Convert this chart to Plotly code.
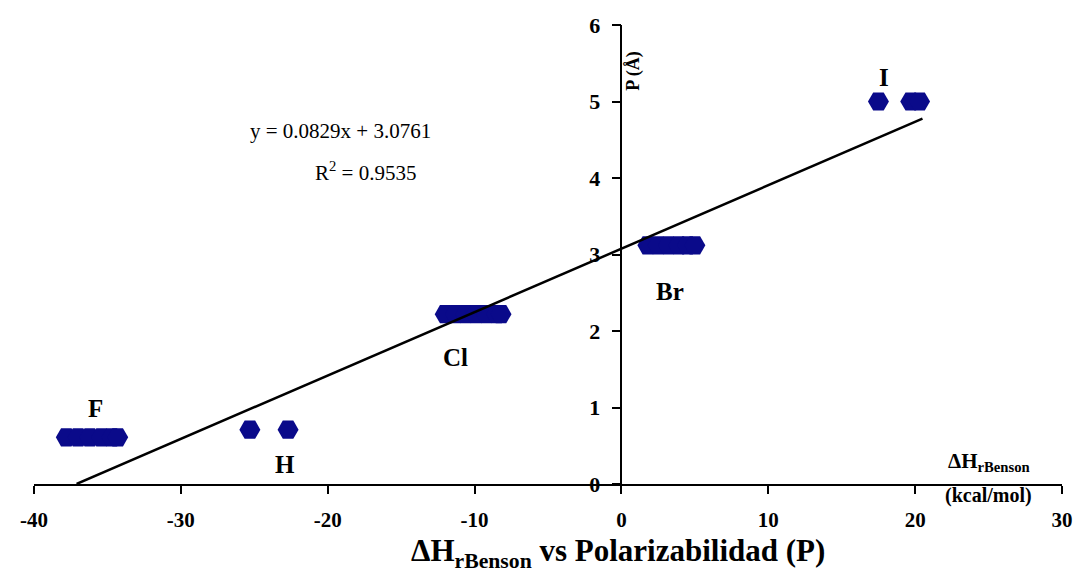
import plotly.graph_objects as go

# Data
F_x = [-37.8, -37.0, -36.2, -35.4, -34.7, -34.3]
F_y = [0.61, 0.61, 0.61, 0.61, 0.61, 0.61]
H_x = [-25.3, -22.7]
H_y = [0.71, 0.71]
Cl_x = [-12.0, -11.3, -10.6, -9.9, -9.2, -8.5, -8.2]
Cl_y = [2.22, 2.22, 2.22, 2.22, 2.22, 2.22, 2.22]
Br_x = [1.8, 2.5, 3.2, 3.9, 4.5, 5.0]
Br_y = [3.12, 3.12, 3.12, 3.12, 3.12, 3.12]
I_x = [17.5, 19.7, 20.3]
I_y = [5.0, 5.0, 5.0]

slope = 0.0829
intercept = 3.0761
line_x = [-37.1, 20.5]

x_ticks = [-40, -30, -20, -10, 0, 10, 20, 30]
y_ticks = [0, 1, 2, 3, 4, 5, 6]

labels = [("F", -35.8, 0.99), ("H", -22.9, 0.25), ("Cl", -11.3, 1.65),
          ("Br", 3.3, 2.51), ("I", 17.9, 5.31)]

all_x = F_x + H_x + Cl_x + Br_x + I_x
all_y = F_y + H_y + Cl_y + Br_y + I_y

SERIF = "Liberation Serif, Times New Roman, serif"
NAVY = "#0a0a8a"

fig = go.Figure()
fig.add_trace(go.Scatter(
    x=all_x, y=all_y, mode="markers",
    marker=dict(symbol="hexagon2", size=21, color=NAVY, line=dict(width=0)),
    showlegend=False, hoverinfo="skip"))
fig.add_trace(go.Scatter(
    x=line_x, y=[slope * v + intercept for v in line_x], mode="lines",
    line=dict(color="black", width=2.5), showlegend=False, hoverinfo="skip"))

for txt, lx, ly in labels:
    fig.add_annotation(x=lx, y=ly, text=f"<b>{txt}</b>", showarrow=False,
                       font=dict(family=SERIF, size=25, color="black"))

fig.add_annotation(x=-19.1, y=4.61, text="y = 0.0829x + 3.0761", showarrow=False,
                   font=dict(family=SERIF, size=21, color="black"))
fig.add_annotation(x=-17.4, y=4.09, text="R<sup>2</sup> = 0.9535", showarrow=False,
                   font=dict(family=SERIF, size=21, color="black"))

# axis titles as annotations
fig.add_annotation(x=0.85, y=5.4, text="<b>P (Å)</b>", textangle=-90, showarrow=False,
                   font=dict(family=SERIF, size=18, color="black"))
fig.add_annotation(x=25.05, y=0.29, text="<b>ΔH<sub>rBenson</sub></b>", showarrow=False,
                   font=dict(family=SERIF, size=21, color="black"))
fig.add_annotation(x=(988 - 34) / 1028, y=(484 - 496) / 459, xref="paper", yref="paper",
                   xanchor="center", yanchor="middle",
                   text="<b>(kcal/mol)</b>", showarrow=False,
                   font=dict(family=SERIF, size=20, color="black"))
fig.add_annotation(x=(618 - 34) / 1028, y=(484 - 553) / 459, xref="paper", yref="paper",
                   xanchor="center", yanchor="middle",
                   text="<b>ΔH<sub>rBenson</sub> vs Polarizabilidad (P)</b>", showarrow=False,
                   font=dict(family=SERIF, size=31, color="black"))

fig.update_layout(
    width=1078, height=571,
    margin=dict(l=34, r=16, t=25, b=87, autoexpand=False),
    paper_bgcolor="white", plot_bgcolor="white",
    xaxis=dict(range=[-40, 30], tickvals=x_ticks, ticktext=[f"<b>{v}</b>" for v in x_ticks],
               showgrid=False, zeroline=False, showline=True, linecolor="black", linewidth=1.5,
               ticks="outside", ticklen=8, tickcolor="black", tickwidth=1.5, automargin=False,
               ticklabelstandoff=8,
               tickfont=dict(family=SERIF, size=21, color="black"), domain=[0, 1]),
    yaxis=dict(range=[0, 6], tickvals=y_ticks, ticktext=[f"<b>{v}</b>" for v in y_ticks],
               showgrid=False, zeroline=False, showline=True, linecolor="black", linewidth=1.5,
               ticks="outside", ticklen=9, tickcolor="black", tickwidth=1.5, automargin=False,
               ticklabelstandoff=7,
               tickfont=dict(family=SERIF, size=22, color="black"),
               anchor="free", position=40 / 70, domain=[0, 1]),
)

fig.write_html("out.html", config={"displayModeBar": False},
               post_script="document.body.style.margin='0';document.body.style.padding='0';")
